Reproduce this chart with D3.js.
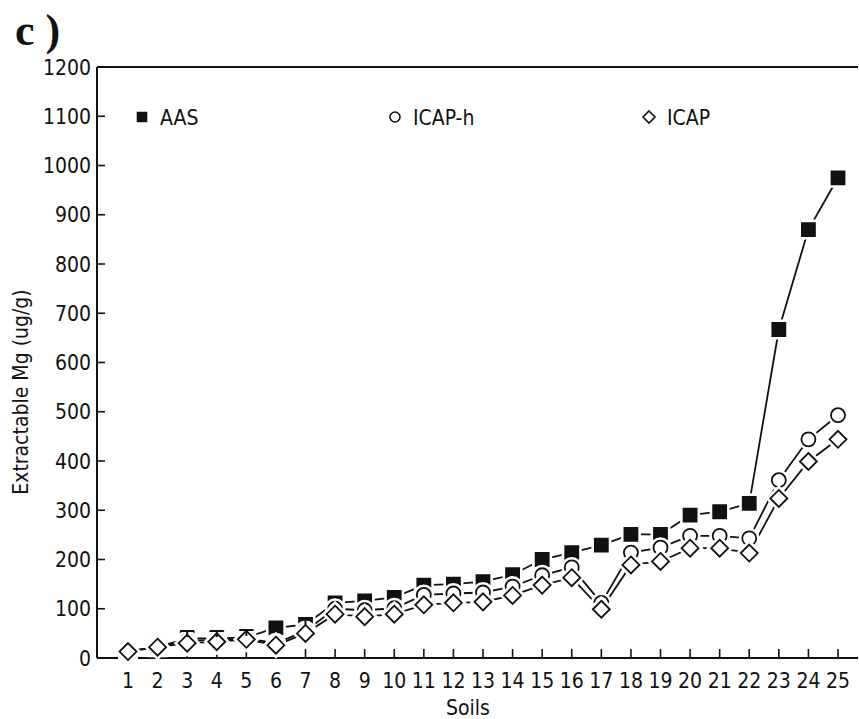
<!DOCTYPE html>
<html lang="en">
<head>
<meta charset="utf-8">
<script src="https://d3js.org/d3.v7.min.js"></script>
<style>
  body { margin: 0; background: #fff; }
  text { font-family: "Liberation Sans Narrow", "DejaVu Sans Condensed", sans-serif; fill: #111; }
</style>
</head>
<body>
<svg width="859" height="719"></svg>
<script>
// soils 1..25
var soils = d3.range(1, 26);
var aas   = [14, 22, 40, 40, 42, 61, 68, 112, 116, 123, 148, 150, 155, 169, 200, 214, 229, 251, 251, 290, 297, 314, 667, 870, 975];
var aasErr = [0, 0, 15, 15, 15, 0, 12, 0, 0, 0, 0, 0, 0, 0, 0, 0, 0, 0, 0, 0, 0, 0, 0, 0, 0];
var icapH = [14, 22, 35, 37, 40, 30, 55, 100, 97, 101, 128, 131, 133, 145, 168, 184, 112, 214, 224, 248, 248, 243, 361, 444, 493];
var icap  = [13, 22, 30, 33, 38, 26, 50, 89, 84, 89, 108, 112, 114, 127, 148, 163, 99, 189, 196, 223, 223, 213, 324, 399, 444];
var yTicks = d3.range(0, 1201, 100);

var svg = d3.select("svg");

var x = d3.scaleLinear().domain([1, 25]).range([128, 838]);
var y = d3.scaleLinear().domain([0, 1200]).range([658, 67]);

// frame: left axis, top line, bottom axis
svg.append("line").attr("x1", 97).attr("x2", 97).attr("y1", 67).attr("y2", 658)
  .attr("stroke", "#111").attr("stroke-width", 2);
svg.append("line").attr("x1", 97).attr("x2", 858).attr("y1", 67).attr("y2", 67)
  .attr("stroke", "#111").attr("stroke-width", 2);
svg.append("line").attr("x1", 97).attr("x2", 858).attr("y1", 658).attr("y2", 658)
  .attr("stroke", "#111").attr("stroke-width", 2);

// y ticks (inward)
svg.selectAll(".yt").data(yTicks).enter().append("line")
  .attr("x1", 97).attr("x2", 105)
  .attr("y1", function(d) { return y(d); }).attr("y2", function(d) { return y(d); })
  .attr("stroke", "#111").attr("stroke-width", 1.6);
svg.selectAll(".yl").data(yTicks).enter().append("text")
  .attr("x", 91).attr("y", function(d) { return y(d); })
  .attr("dy", "0.36em").attr("text-anchor", "end")
  .attr("font-size", 21)
  .text(function(d) { return d; });

// x ticks (inward)
svg.selectAll(".xt").data(soils).enter().append("line")
  .attr("x1", function(d) { return x(d); }).attr("x2", function(d) { return x(d); })
  .attr("y1", 649).attr("y2", 658)
  .attr("stroke", "#111").attr("stroke-width", 1.6);
svg.selectAll(".xl").data(soils).enter().append("text")
  .attr("x", function(d) { return x(d); }).attr("y", 688)
  .attr("text-anchor", "middle").attr("font-size", 21)
  .text(function(d) { return d; });

svg.append("text").attr("x", 468).attr("y", 715).attr("text-anchor", "middle")
  .attr("font-size", 21).text("Soils");

svg.append("text")
  .attr("transform", "translate(28,392) rotate(-90)")
  .attr("text-anchor", "middle").attr("font-size", 21)
  .text("Extractable Mg (ug/g)");

svg.append("text").attr("x", 15).attr("y", 45)
  .style("font-family", "'Liberation Serif', 'DejaVu Serif', serif")
  .attr("font-size", 44).attr("font-weight", "bold").text("c )");

// series
var line = d3.line().x(function(d, i) { return x(soils[i]); }).y(function(d) { return y(d); });

function drawSeries(vals) {
  svg.append("path").datum(vals).attr("d", line)
    .attr("fill", "none").attr("stroke", "#111").attr("stroke-width", 1.8);
}
drawSeries(aas);
drawSeries(icapH);
drawSeries(icap);

function symbolPath(kind, cx, cy, s) {
  if (kind === "square") return "M" + (cx - s) + "," + (cy - s) + "h" + 2 * s + "v" + 2 * s + "h" + (-2 * s) + "Z";
  if (kind === "diamond") return "M" + cx + "," + (cy - s) + "L" + (cx + s) + "," + cy + "L" + cx + "," + (cy + s) + "L" + (cx - s) + "," + cy + "Z";
  return "M" + (cx - s) + "," + cy + "a" + s + "," + s + " 0 1,0 " + 2 * s + ",0a" + s + "," + s + " 0 1,0 " + (-2 * s) + ",0Z";
}

function drawMarkers(vals, kind, size, filled) {
  var g = svg.append("g");
  g.selectAll(".halo").data(vals).enter().append("path")
    .attr("d", function(d, i) { return symbolPath(kind, x(soils[i]), y(d), size); })
    .attr("fill", "#fff").attr("stroke", "#fff").attr("stroke-width", 7);
  g.selectAll(".mk").data(vals).enter().append("path")
    .attr("d", function(d, i) { return symbolPath(kind, x(soils[i]), y(d), size); })
    .attr("fill", filled ? "#111" : "#fff").attr("stroke", "#111").attr("stroke-width", 1.8);
}
drawMarkers(aas, "square", 6.5, true);
drawMarkers(icapH, "circle", 7, false);
drawMarkers(icap, "diamond", 8.5, false);

// AAS error bar caps, drawn above the markers
svg.selectAll(".err").data(soils.filter(function(s, i) { return aasErr[i] > 0; })).enter()
  .append("path")
  .attr("d", function(s) {
    var i = s - 1;
    var cx = x(s), top = y(aas[i] + aasErr[i]);
    return "M" + (cx - 7) + "," + top + "H" + (cx + 7) + "M" + cx + "," + top + "V" + (top + 6);
  })
  .attr("stroke", "#111").attr("stroke-width", 2).attr("fill", "none");

// legend
var legend = [
  { name: "AAS", kind: "square", x: 142, s: 4.5, filled: true },
  { name: "ICAP-h", kind: "circle", x: 395, s: 5, filled: false },
  { name: "ICAP", kind: "diamond", x: 649, s: 6, filled: false }
];
legend.forEach(function(l) {
  svg.append("path").attr("d", symbolPath(l.kind, l.x, 117, l.s))
    .attr("fill", l.filled ? "#111" : "#fff").attr("stroke", "#111").attr("stroke-width", 1.6);
  svg.append("text").attr("x", l.x + 18).attr("y", 117).attr("dy", "0.36em")
    .attr("font-size", 21).text(l.name);
});
</script>
</body>
</html>
